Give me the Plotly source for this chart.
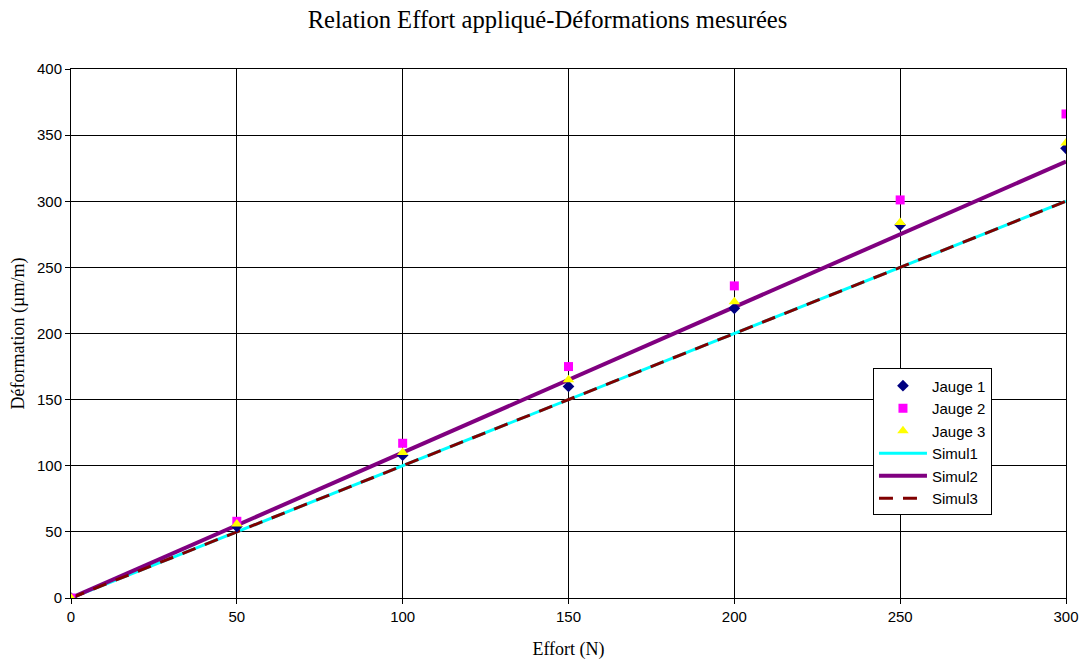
import plotly.graph_objects as go

effort = [0, 50, 100, 150, 200, 250, 300]
jauge1 = [0, 54, 108, 160, 219, 282, 340]
jauge2 = [0, 58, 117, 175, 236, 301, 366]
jauge3 = [0, 56, 110, 165, 224, 284, 344]
simul1 = [0, 50, 100, 150, 200, 250, 300]
simul2 = [0, 55, 110, 165, 220, 275, 330]
simul3 = [0, 50, 100, 150, 200, 250, 300]

fig = go.Figure()
fig.add_trace(go.Scatter(x=effort, y=simul1, mode="lines", name="Simul1",
                         line=dict(color="#00FFFF", width=3), legendrank=4))
fig.add_trace(go.Scatter(x=effort, y=simul2, mode="lines", name="Simul2",
                         line=dict(color="#800080", width=4), legendrank=5))
fig.add_trace(go.Scatter(x=effort, y=simul3, mode="lines", name="Simul3",
                         line=dict(color="#800000", width=3, dash="14px,10px"), legendrank=6))
fig.add_trace(go.Scatter(x=effort, y=jauge1, mode="markers", name="Jauge 1",
                         marker=dict(symbol="diamond", color="#000080", size=9), legendrank=1))
fig.add_trace(go.Scatter(x=effort, y=jauge2, mode="markers", name="Jauge 2",
                         marker=dict(symbol="square", color="#FF00FF", size=9), legendrank=2))
fig.add_trace(go.Scatter(x=effort, y=jauge3, mode="markers", name="Jauge 3",
                         marker=dict(symbol="triangle-up", color="#FFFF00", size=10), legendrank=3))

axis_common = dict(showgrid=True, gridcolor="black", gridwidth=1, zeroline=False,
                   showline=True, linecolor="black", linewidth=1, mirror=True,
                   ticks="outside", ticklen=5, tickcolor="black", automargin=False,
                   tickfont=dict(family="Liberation Sans, Arial", size=15, color="black"))

fig.update_layout(
    width=1082, height=660,
    paper_bgcolor="white", plot_bgcolor="white",
    margin=dict(l=71, r=16, t=69, b=62),
    title=dict(text="Relation Effort appliqué-Déformations mesurées",
               font=dict(family="Liberation Serif, Times New Roman", size=24.6, color="black"),
               x=0.506, xanchor="center", y=0.97, yanchor="middle", automargin=False),
    xaxis=dict(range=[0, 300], tickvals=[0, 50, 100, 150, 200, 250, 300],
               title=dict(text="Effort (N)", standoff=22,
                          font=dict(family="Liberation Serif, Times New Roman", size=18, color="black")),
               **axis_common),
    yaxis=dict(range=[0, 400], tickvals=[0, 50, 100, 150, 200, 250, 300, 350, 400],
               title=dict(text="Déformation (µm/m)", standoff=7,
                          font=dict(family="Liberation Serif, Times New Roman", size=18, color="black")),
               **axis_common),
    legend=dict(x=0.806, y=0.434, xanchor="left", yanchor="top",
                bgcolor="white", bordercolor="black", borderwidth=1,
                font=dict(family="Liberation Sans, Arial", size=15, color="black"),
                tracegroupgap=0, itemwidth=48),
    showlegend=True,
)

fig.write_html("out.html", config={"displayModeBar": False},
               post_script="document.body.style.margin='0';document.body.style.padding='0';")
